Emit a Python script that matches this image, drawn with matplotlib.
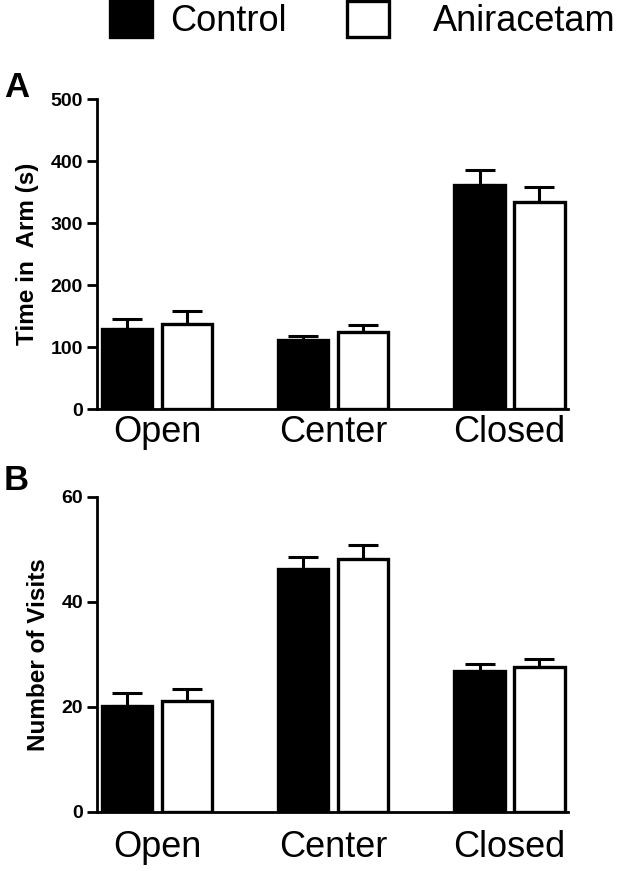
import matplotlib
matplotlib.use("Agg")
import matplotlib.pyplot as plt
import numpy as np

categories = ["Open", "Center", "Closed"]
groups = ["Control", "Aniracetam"]

time_control = [129, 111, 362]
time_control_err = [16, 7, 23]
time_anir = [137, 125, 334]
time_anir_err = [21, 10, 24]

visits_control = [20.2, 46.3, 26.8]
visits_control_err = [2.4, 2.3, 1.4]
visits_anir = [21.0, 48.1, 27.6]
visits_anir_err = [2.3, 2.6, 1.5]

time_ticks = [0, 100, 200, 300, 400, 500]
visit_ticks = [0, 20, 40, 60]

font = ["Liberation Sans", "DejaVu Sans"]

fig = plt.figure(figsize=(6.23, 8.71), dpi=100)
axA = fig.add_axes([0.1565, 0.5304, 0.7552, 0.3559])
axB = fig.add_axes([0.1565, 0.0681, 0.7552, 0.3617])

x = np.arange(len(categories))
w = 0.285
off = 0.17
lw = 2.4

def draw(ax, c, ce, a, ae, ticks, ylabel, ymax, xpad):
    bc = ax.bar(x - off, c, w, color="black", edgecolor="black", linewidth=lw, label=groups[0], zorder=3)
    ba = ax.bar(x + off, a, w, color="white", edgecolor="black", linewidth=lw, label=groups[1], zorder=3)
    ax.errorbar(x - off, c, yerr=[np.zeros(3), ce], fmt="none", ecolor="black",
                elinewidth=2.2, capsize=11, capthick=2.2, zorder=2)
    ax.errorbar(x + off, a, yerr=[np.zeros(3), ae], fmt="none", ecolor="black",
                elinewidth=2.2, capsize=11, capthick=2.2, zorder=2)
    ax.set_xlim(-0.338, 2.332)
    ax.set_ylim(0, ymax)
    ax.set_yticks(ticks)
    ax.set_yticklabels([str(t) for t in ticks], family=font, fontweight="bold", fontsize=14)
    ax.set_xticks(x)
    ax.set_xticklabels(categories, family=font, fontsize=26)
    ax.tick_params(axis="x", length=0, pad=xpad)
    ax.tick_params(axis="y", length=7, width=2, pad=3.5)
    for s in ["top", "right"]:
        ax.spines[s].set_visible(False)
    for s in ["left", "bottom"]:
        ax.spines[s].set_linewidth(2)
    ax.set_ylabel(ylabel, family=font, fontweight="bold", fontsize=17.5, labelpad=8)
    return bc, ba

bc, ba = draw(axA, time_control, time_control_err, time_anir, time_anir_err,
              time_ticks, "Time in  Arm (s)", 500, 4)
draw(axB, visits_control, visits_control_err, visits_anir, visits_anir_err,
     visit_ticks, "Number of Visits", 60, 13)

fig.text(4 / 623, 1 - 97 / 871, "A", family=font, fontweight="bold", fontsize=25, va="baseline")
fig.text(4 / 623, 1 - 490 / 871, "B", family=font, fontweight="bold", fontsize=25, va="baseline")

leg1 = fig.legend([bc], [groups[0]], loc="upper left", bbox_to_anchor=(110 / 623, 1 - 1 / 871),
                  frameon=False, prop={"family": font, "size": 26},
                  handlelength=1.17, handleheight=1.14, handletextpad=0.5,
                  borderpad=0, borderaxespad=0)
leg2 = fig.legend([ba], [groups[1]], loc="upper left", bbox_to_anchor=(347 / 623, 1 - 1 / 871),
                  frameon=False, prop={"family": font, "size": 26},
                  handlelength=1.17, handleheight=1.14, handletextpad=1.2,
                  borderpad=0, borderaxespad=0)

fig.savefig("out.png", dpi=100)
